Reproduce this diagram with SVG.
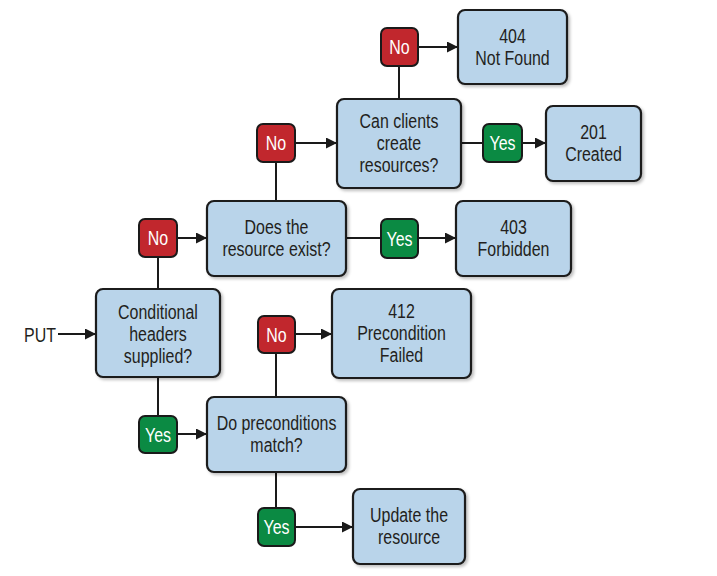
<svg xmlns="http://www.w3.org/2000/svg" width="717" height="576" viewBox="0 0 717 576">
<style>
.box{fill:#b9d4ea;stroke:#1a1a1a;stroke-width:2.2;filter:url(#sh)}
.no{fill:#c1272d;stroke:#1a1a1a;stroke-width:2}
.yes{fill:#0b8a43;stroke:#1a1a1a;stroke-width:2}
.t{font-family:"Liberation Sans Narrow","Liberation Sans",Arial,sans-serif;font-size:21px;fill:#231f20;text-anchor:middle}
.bt{font-family:"Liberation Sans Narrow","Liberation Sans",Arial,sans-serif;font-size:21px;fill:#ffffff;text-anchor:middle}
.ln{stroke:#1a1a1a;stroke-width:2;fill:none}
.ar{stroke:#1a1a1a;stroke-width:2;fill:none;marker-end:url(#ah)}
</style>
<defs>
<marker id="ah" viewBox="0 0 10 10" refX="10" refY="5" markerWidth="11" markerHeight="11" markerUnits="userSpaceOnUse" orient="auto">
<path d="M0,0 L10,5 L0,10 Z" fill="#1a1a1a"/>
</marker>
<filter id="sh" x="-10%" y="-10%" width="125%" height="130%">
<feDropShadow dx="2" dy="2" stdDeviation="1.5" flood-color="#000" flood-opacity="0.25"/>
</filter>
</defs>
<rect width="717" height="576" fill="#ffffff"/>
<g id="connectors">
<path class="ar" d="M58,334 H96"/>
<path class="ln" d="M158,289 V257"/>
<path class="ar" d="M177,238 H207"/>
<path class="ln" d="M158,377 V416"/>
<path class="ar" d="M177,434 H207"/>
<path class="ln" d="M276,201 V162"/>
<path class="ar" d="M295,143 H337"/>
<path class="ln" d="M346,238 H381"/>
<path class="ar" d="M418,238 H456"/>
<path class="ln" d="M399,99 V66"/>
<path class="ar" d="M418,47 H458"/>
<path class="ln" d="M461,143 H483"/>
<path class="ar" d="M522,143 H546"/>
<path class="ln" d="M276,397 V353"/>
<path class="ar" d="M295,334 H332"/>
<path class="ln" d="M276,472 V508"/>
<path class="ar" d="M295,527 H353"/>
</g>
<g id="put"><text class="t" transform="translate(40 0) scale(0.76 1)" x="0" y="342">PUT</text></g>
<g id="conditional">
<rect class="box" x="96" y="289" width="124" height="88" rx="7"/>
<text class="t" transform="translate(158 0) scale(0.76 1)" x="0" y="319">Conditional<tspan x="0" dy="22">headers</tspan><tspan x="0" dy="22">supplied?</tspan></text>
</g>
<g id="exist">
<rect class="box" x="207" y="201" width="139" height="75" rx="7"/>
<text class="t" transform="translate(276.5 0) scale(0.76 1)" x="0" y="234">Does the<tspan x="0" dy="22">resource exist?</tspan></text>
</g>
<g id="canCreate">
<rect class="box" x="337" y="99" width="124" height="89" rx="7"/>
<text class="t" transform="translate(399 0) scale(0.76 1)" x="0" y="128">Can clients<tspan x="0" dy="22">create</tspan><tspan x="0" dy="22">resources?</tspan></text>
</g>
<g id="notFound">
<rect class="box" x="458" y="10" width="109" height="74" rx="7"/>
<text class="t" transform="translate(512.5 0) scale(0.76 1)" x="0" y="43">404<tspan x="0" dy="22">Not Found</tspan></text>
</g>
<g id="created">
<rect class="box" x="546" y="106" width="95" height="75" rx="7"/>
<text class="t" transform="translate(593.5 0) scale(0.76 1)" x="0" y="139">201<tspan x="0" dy="22">Created</tspan></text>
</g>
<g id="forbidden">
<rect class="box" x="456" y="201" width="115" height="75" rx="7"/>
<text class="t" transform="translate(513.5 0) scale(0.76 1)" x="0" y="234">403<tspan x="0" dy="22">Forbidden</tspan></text>
</g>
<g id="failed">
<rect class="box" x="332" y="289" width="139" height="89" rx="7"/>
<text class="t" transform="translate(401.5 0) scale(0.76 1)" x="0" y="318">412<tspan x="0" dy="22">Precondition</tspan><tspan x="0" dy="22">Failed</tspan></text>
</g>
<g id="preconditions">
<rect class="box" x="207" y="397" width="139" height="75" rx="7"/>
<text class="t" transform="translate(276.5 0) scale(0.76 1)" x="0" y="430">Do preconditions<tspan x="0" dy="22">match?</tspan></text>
</g>
<g id="update">
<rect class="box" x="353" y="489" width="112" height="75" rx="7"/>
<text class="t" transform="translate(409 0) scale(0.76 1)" x="0" y="522">Update the<tspan x="0" dy="22">resource</tspan></text>
</g>
<g id="no1"><rect class="no" x="139" y="219" width="38" height="38" rx="6"/><text class="bt" transform="translate(158 0) scale(0.76 1)" x="0" y="245.5">No</text></g>
<g id="no2"><rect class="no" x="257" y="124" width="38" height="38" rx="6"/><text class="bt" transform="translate(276 0) scale(0.76 1)" x="0" y="150.5">No</text></g>
<g id="no3"><rect class="no" x="381" y="28" width="37" height="38" rx="6"/><text class="bt" transform="translate(399.5 0) scale(0.76 1)" x="0" y="54.5">No</text></g>
<g id="no4"><rect class="no" x="258" y="316" width="37" height="37" rx="6"/><text class="bt" transform="translate(276.5 0) scale(0.76 1)" x="0" y="342">No</text></g>
<g id="yes1"><rect class="yes" x="381" y="219" width="37" height="39" rx="6"/><text class="bt" transform="translate(399.5 0) scale(0.76 1)" x="0" y="246">Yes</text></g>
<g id="yes2"><rect class="yes" x="483" y="124" width="39" height="38" rx="6"/><text class="bt" transform="translate(502.5 0) scale(0.76 1)" x="0" y="150.5">Yes</text></g>
<g id="yes3"><rect class="yes" x="139" y="416" width="38" height="37" rx="6"/><text class="bt" transform="translate(158 0) scale(0.76 1)" x="0" y="442">Yes</text></g>
<g id="yes4"><rect class="yes" x="258" y="508" width="37" height="38" rx="6"/><text class="bt" transform="translate(276.5 0) scale(0.76 1)" x="0" y="534.5">Yes</text></g>
</svg>
